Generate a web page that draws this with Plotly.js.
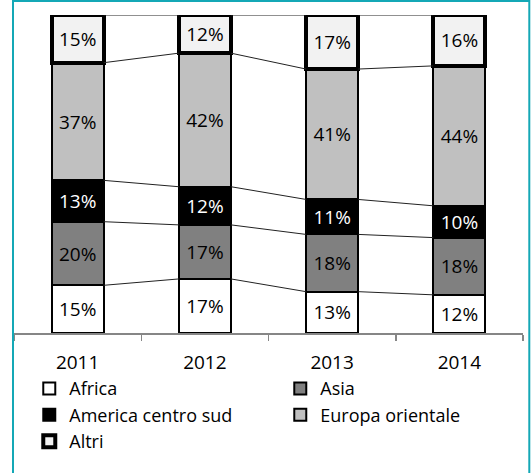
<!DOCTYPE html>
<html><head><meta charset="utf-8">
<script src="https://cdn.plot.ly/plotly-3.0.1.min.js"></script>
<style>html,body{margin:0;padding:0;background:#fff}#chart{width:531px;height:473px}</style>
</head><body><div id="chart"></div>
<script>
// ---- data ----
const years = ['2011', '2012', '2013', '2014'];
const africa = [15, 17, 13, 12];
const asia = [20, 17, 18, 18];
const america = [13, 12, 11, 10];
const europa = [37, 42, 41, 44];
const altri = [15, 12, 17, 16];
const seriesNames = ['Africa', 'Asia', 'America centro sud', 'Europa orientale', 'Altri'];

// ---- styles ----
const series = [africa, asia, america, europa, altri];
const fills = ['#ffffff', '#808080', '#000000', '#c0c0c0', '#f2f2f2'];
const lineW = [2, 2, 2, 2, 4];
const textCol = ['#000', '#000', '#fff', '#000', '#000'];
const barW = 0.41;
const FONT = '"Open Sans", Lato, sans-serif';

const traces = [];
series.forEach((vals, k) => {
  traces.push({
    type: 'bar', x: years, y: vals, name: seriesNames[k], width: barW,
    marker: {color: fills[k], line: {color: '#000', width: lineW[k]}},
    texttemplate: '%{y}%', textposition: 'inside', insidetextanchor: 'middle',
    constraintext: 'none', textangle: 0,
    textfont: {family: FONT, size: 19, color: textCol[k]},
    hoverinfo: 'skip'
  });
});

// series lines connecting the top of each segment between bars
const cum = years.map(() => 0);
series.forEach((vals) => {
  const xs = [], ys = [];
  vals.forEach((v, i) => { cum[i] += v; });
  for (let i = 0; i < years.length - 1; i++) {
    xs.push(i + barW / 2, i + 1 - barW / 2, null);
    ys.push(cum[i], cum[i + 1], null);
  }
  traces.push({
    type: 'scatter', mode: 'lines', x: xs, y: ys, xaxis: 'x2',
    line: {color: '#222', width: 1}, showlegend: false, hoverinfo: 'skip',
    connectgaps: false
  });
});

const layout = {
  width: 531, height: 473,
  margin: {l: 14, r: 8, t: 15, b: 140, autoexpand: false},
  paper_bgcolor: '#fff', plot_bgcolor: '#fff',
  barmode: 'stack',
  showlegend: true,
  font: {family: FONT, size: 18, color: '#000'},
  xaxis: {
    type: 'category', categoryorder: 'array', categoryarray: years,
    range: [-0.5, 3.5], tickson: 'boundaries', ticks: 'outside', ticklen: 6,
    tickcolor: '#868686', tickwidth: 1.5, showline: true, linecolor: '#868686', linewidth: 1.5,
    showgrid: false, zeroline: false, fixedrange: true, ticklabelstandoff: 12,
    tickfont: {family: FONT, size: 19, color: '#000'}
  },
  xaxis2: {overlaying: 'x', type: 'linear', range: [-0.5, 3.5], visible: false, fixedrange: true},
  yaxis: {range: [0, 100], visible: false, showgrid: false, zeroline: false, fixedrange: true},
  legend: {
    orientation: 'h', traceorder: 'normal', x: 0.030, xanchor: 'left',
    y: -0.117, yanchor: 'top', entrywidth: 206, entrywidthmode: 'pixels',
    font: {family: FONT, size: 18, color: '#000'}, bgcolor: 'rgba(0,0,0,0)',
    itemclick: false, itemdoubleclick: false
  },
  shapes: [{
    type: 'rect', xref: 'paper', yref: 'paper', layer: 'above',
    x0: (13 - 14) / 509, x1: (529.3 - 14) / 509,
    y0: -0.6, y1: (333 - 1) / 318,
    line: {color: '#14a8b6', width: 2}, fillcolor: 'rgba(0,0,0,0)'
  }]
};

Plotly.newPlot('chart', traces, layout, {displayModeBar: false, staticPlot: true});
</script>
</body></html>
